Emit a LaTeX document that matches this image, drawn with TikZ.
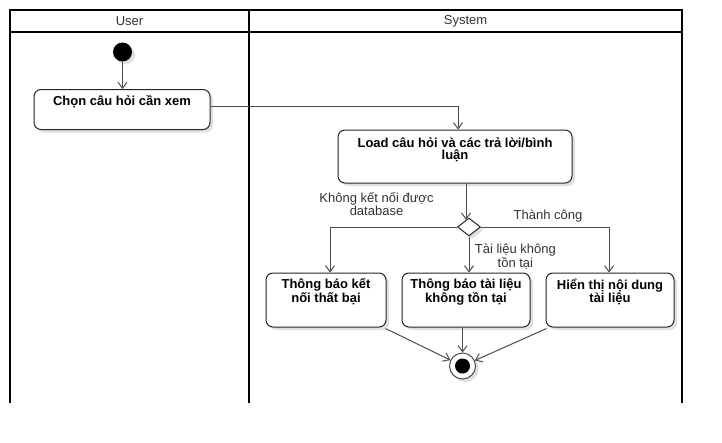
\documentclass[tikz,border=0pt]{standalone}
\usepackage{fontspec}
\setmainfont{Liberation Sans}
\usetikzlibrary{arrows.meta,shadows,calc,shapes.geometric}
\definecolor{linegray}{HTML}{4D4D4D}
\definecolor{labelgray}{HTML}{333333}
\begin{document}
\begin{tikzpicture}[x=1pt,y=-1pt,
  lane/.style={line width=2pt, black, line cap=rect},
  shade/.style={drop shadow={shadow xshift=3pt, shadow yshift=-3pt, fill=black!12, opacity=1}},
  act/.style={draw=black!85, line width=1pt, rounded corners=7pt, fill=white, shade, inner sep=0pt},
  acttext/.style={font=\fontsize{13}{11.8}\selectfont\bfseries, align=center, anchor=base, inner sep=0pt},
  lbl/.style={font=\fontsize{13}{11.2}\selectfont, text=labelgray, align=center, anchor=base, inner sep=0pt},
  head/.style={font=\fontsize{13}{14}\selectfont, text=labelgray, inner sep=0pt},
  flow/.style={draw=linegray, line width=1pt, -{Straight Barb[length=6pt,width=9pt,line width=1pt]}},
]
\fill[white] (0,0) rectangle (722,442);
\useasboundingbox (0,0) rectangle (722,442);

% swimlanes
\draw[lane] (10,401.5) -- (10,10) -- (681.5,10) -- (681.5,401.5);
\draw[lane] (10,31.5) -- (681.5,31.5);
\draw[lane] (249,10) -- (249,401.5);
\node[head] (huser) at (129.5,21) {User};
\node[head] (hsys) at (465.5,21) {System};

% start
\node[circle, fill=black, minimum size=19pt, inner sep=0pt, shade] (start) at (122.5,52) {};

% activities
\node[act, minimum width=176pt, minimum height=40pt] (b1) at (122,109.5) {};
\node[acttext] (t1) at (122,105.5) {Chọn câu hỏi cần xem};

\node[act, minimum width=234pt, minimum height=53pt] (b2) at (455,156.5) {};
\node[acttext] (t2) at (455,159.4) {Load câu hỏi và các trả lời/bình\\luận};

\node[diamond, draw=black!85, line width=1pt, fill=white, shade, inner sep=0pt,
      minimum width=23pt, minimum height=18pt, aspect=1.28] (d) at (469,227) {};

\node[act, minimum width=120pt, minimum height=54pt] (b3) at (326,300) {};
\node[acttext] (t3) at (326,302.6) {Thông báo kết\\nối thất bại};

\node[act, minimum width=128pt, minimum height=54pt] (b4) at (466,300) {};
\node[acttext] (t4) at (466,302.6) {Thông báo tài liệu\\không tồn tại};

\node[act, minimum width=128pt, minimum height=54pt] (b5) at (610,300) {};
\node[acttext] (t5) at (610,302.6) {Hiển thị nội dung\\tài liệu};

% end
\node[circle, draw=linegray, line width=1pt, fill=white, minimum size=26pt, inner sep=0pt, shade] (e) at (462.5,366) {};
\node[circle, fill=black, minimum size=15pt, inner sep=0pt] (ein) at (e) {};

% connectors
\draw[flow] (start) -- (start |- b1.north);
\draw[flow] ($(b1.east)+(0,-3.5)$) -| ($(b2.north)+(3,0)$);
\draw[flow] ($(b2.south)+(11,0)$) -- ($(d.north)+(-3,2.3)$);
\draw[flow] (d.west) -| ($(b3.north)+(4,0)$);
\draw[flow] (d.south) -- (d.south |- b4.north);
\draw[flow] (d.east) -| ($(b5.north)+(-1,0)$);
\draw[flow] ($(b3.south east)+(-1,1)$) -- (e);
\draw[flow] (e.north |- b4.south) -- (e.north);
\draw[flow] ($(b5.south west)+(1,1)$) -- (e);

% labels
\node[lbl] (l1) at (376.5,215.8) {Không kết nối được\\database};
\node[lbl] (l2) at (548,219) {Thành công};
\node[lbl] (l3) at (515.4,267) {Tài liệu không\\tồn tại};
\end{tikzpicture}
\end{document}
